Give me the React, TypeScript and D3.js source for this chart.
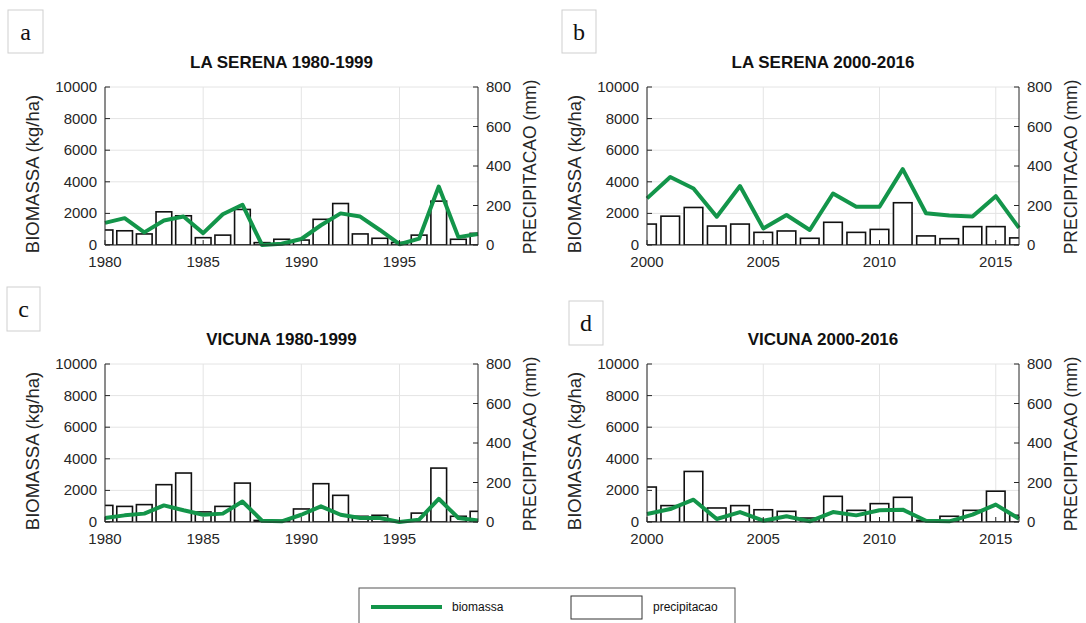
import React from "react";
import * as d3 from "d3";

// ---------- data ----------
const years1 = [1980,1981,1982,1983,1984,1985,1986,1987,1988,1989,1990,1991,1992,1993,1994,1995,1996,1997,1998,1999];
const years2 = [2000,2001,2002,2003,2004,2005,2006,2007,2008,2009,2010,2011,2012,2013,2014,2015,2016];

const biomassLaSerena1 = [1400,1700,800,1550,1800,750,1950,2550,0,80,380,1250,2000,1800,950,50,400,3700,500,700];
const precipLaSerena1 = [76,72,56,168,148,37,50,180,12,29,25,130,210,56,34,13,50,222,29,59];

const biomassLaSerena2 = [2950,4300,3580,1790,3730,1050,1900,950,3260,2420,2420,4800,2010,1860,1800,3090,1080];
const precipLaSerena2 = [106,146,190,96,106,64,71,34,115,64,79,214,46,32,93,93,36];

const biomassVicuna1 = [250,420,530,1050,740,460,530,1300,80,40,460,990,460,250,250,0,150,1470,250,100];
const precipVicuna1 = [84,79,88,189,248,51,79,197,8,8,66,194,135,29,34,3,45,273,29,54];

const biomassVicuna2 = [505,820,1410,190,630,80,360,40,630,420,740,780,80,40,470,1100,210];
const precipVicuna2 = [177,83,256,71,83,62,54,20,130,59,93,125,8,29,59,156,34];

const leftTicks = [0,2000,4000,6000,8000,10000];
const rightTicks = [0,200,400,600,800];
const xTicks1 = [1980,1985,1990,1995];
const xTicks2 = [2000,2005,2010,2015];

const titles = ["LA SERENA 1980-1999","LA SERENA 2000-2016","VICUNA 1980-1999","VICUNA 2000-2016"];
const letters = ["a","b","c","d"];
const legendLabels = ["biomassa","precipitacao"];

// ---------- styles / layout ----------
const GREEN = "#13954a";
const AX = "#262626";
const GRID = "#e4e4e4";
const FONT = "'Liberation Sans', Arial, Helvetica, sans-serif";

const layouts = [
  { x0: 105, x1: 478, y0: 87, y1: 245, box: { x: 8, y: 10, w: 35, h: 43 } },
  { x0: 647, x1: 1019, y0: 87, y1: 245, box: { x: 562, y: 10, w: 34, h: 43 } },
  { x0: 105, x1: 478, y0: 364, y1: 522, box: { x: 7, y: 287, w: 33, h: 44 } },
  { x0: 647, x1: 1019, y0: 364, y1: 522, box: { x: 569, y: 301, w: 34, h: 44 } },
];

const panelsData = [
  { years: years1, bio: biomassLaSerena1, pre: precipLaSerena1, domain: [1980, 1999], ticks: xTicks1 },
  { years: years2, bio: biomassLaSerena2, pre: precipLaSerena2, domain: [2000, 2016], ticks: xTicks2 },
  { years: years1, bio: biomassVicuna1, pre: precipVicuna1, domain: [1980, 1999], ticks: xTicks1 },
  { years: years2, bio: biomassVicuna2, pre: precipVicuna2, domain: [2000, 2016], ticks: xTicks2 },
];

function Panel({ idx }: { idx: number }) {
  const L = layouts[idx];
  const D = panelsData[idx];
  const x = d3.scaleLinear().domain(D.domain).range([L.x0, L.x1]);
  const yl = d3.scaleLinear().domain([0, 10000]).range([L.y1, L.y0]);
  const yr = d3.scaleLinear().domain([0, 800]).range([L.y1, L.y0]);
  const bw = x(D.domain[0] + 0.8) - x(D.domain[0]);
  const line = d3
    .line<number>()
    .x((_, i) => x(D.years[i]))
    .y((v) => yl(v));
  const clipId = `clip${idx}`;
  const midY = (L.y0 + L.y1) / 2;
  const tl = 5;
  return (
    <g>
      <defs>
        <clipPath id={clipId}>
          <rect x={L.x0} y={L.y0 - 2} width={L.x1 - L.x0} height={L.y1 - L.y0 + 2} />
        </clipPath>
      </defs>
      {/* letter box */}
      <rect x={L.box.x} y={L.box.y} width={L.box.w} height={L.box.h} fill="white" stroke="#cfcfcf" strokeWidth={1} />
      <text x={L.box.x + L.box.w / 2} y={L.box.y + L.box.h / 2 + 8} textAnchor="middle"
        fontFamily="'Liberation Serif', 'Times New Roman', serif" fontSize={24} fill="#111">{letters[idx]}</text>
      {/* title */}
      <text x={(L.x0 + L.x1) / 2 - 10} y={L.y0 - 19} textAnchor="middle" fontFamily={FONT}
        fontWeight="bold" fontSize={17} fill="#111">{titles[idx]}</text>
      {/* grid */}
      {D.ticks.map((t) => (
        <line key={"gx" + t} x1={x(t)} x2={x(t)} y1={L.y0} y2={L.y1} stroke={GRID} strokeWidth={1} />
      ))}
      {leftTicks.map((t) => (
        <line key={"gy" + t} x1={L.x0} x2={L.x1} y1={yl(t)} y2={yl(t)} stroke={GRID} strokeWidth={1} />
      ))}
      {/* bars */}
      <g clipPath={`url(#${clipId})`}>
        {D.pre.map((v, i) => (
          <rect key={"b" + i} x={x(D.years[i]) - bw / 2} y={yr(v)} width={bw} height={yr(0) - yr(v)}
            fill="white" stroke="#111" strokeWidth={1.6} />
        ))}
      </g>
      {/* biomass line */}
      <path d={line(D.bio) || ""} fill="none" stroke={GREEN} strokeWidth={4} strokeLinejoin="round" strokeLinecap="butt" />
      {/* axes */}
      <line x1={L.x0} x2={L.x0} y1={L.y0} y2={L.y1} stroke={AX} strokeWidth={1} />
      <line x1={L.x1} x2={L.x1} y1={L.y0} y2={L.y1} stroke={AX} strokeWidth={1} />
      <line x1={L.x0} x2={L.x1} y1={L.y1} y2={L.y1} stroke={AX} strokeWidth={1} />
      {leftTicks.map((t) => (
        <g key={"lt" + t}>
          <line x1={L.x0} x2={L.x0 + tl} y1={yl(t)} y2={yl(t)} stroke={AX} />
          <text x={L.x0 - 8} y={yl(t) + 5} textAnchor="end" fontFamily={FONT} fontSize={15} fill={AX}>{t}</text>
        </g>
      ))}
      {rightTicks.map((t) => (
        <g key={"rt" + t}>
          <line x1={L.x1} x2={L.x1 - tl} y1={yr(t)} y2={yr(t)} stroke={AX} />
          <text x={L.x1 + 8} y={yr(t) + 5} textAnchor="start" fontFamily={FONT} fontSize={15} fill={AX}>{t}</text>
        </g>
      ))}
      {D.ticks.map((t) => (
        <g key={"xt" + t}>
          <line x1={x(t)} x2={x(t)} y1={L.y1} y2={L.y1 - tl} stroke={AX} />
          <text x={x(t)} y={L.y1 + 22} textAnchor="middle" fontFamily={FONT} fontSize={15} fill={AX}>{t}</text>
        </g>
      ))}
      <text transform={`translate(${L.x0 - 66},${midY + 8}) rotate(-90)`} textAnchor="middle" fontFamily={FONT}
        fontSize={18.5} fill={AX}>BIOMASSA (kg/ha)</text>
      <text transform={`translate(${L.x1 + 58},${midY + 1}) rotate(-90)`} textAnchor="middle" fontFamily={FONT}
        fontSize={17.5} fill={AX}>PRECIPITACAO (mm)</text>
    </g>
  );
}

export default function App() {
  return (
    <svg width={1086} height={623} style={{ position: "absolute", left: 0, top: 0, background: "white" }}>
      <rect x={0} y={0} width={1086} height={623} fill="white" />
      {[0, 1, 2, 3].map((i) => (
        <Panel key={i} idx={i} />
      ))}
      {/* legend */}
      <rect x={359} y={588} width={376} height={50} fill="white" stroke="#555" strokeWidth={1} />
      <line x1={371} x2={442} y1={607} y2={607} stroke={GREEN} strokeWidth={4} />
      <text x={452} y={611} fontFamily={FONT} fontSize={12} fill="#111">{legendLabels[0]}</text>
      <rect x={571} y={596} width={71} height={23} fill="white" stroke="#333" strokeWidth={1} />
      <text x={653} y={611} fontFamily={FONT} fontSize={12} fill="#111">{legendLabels[1]}</text>
    </svg>
  );
}
